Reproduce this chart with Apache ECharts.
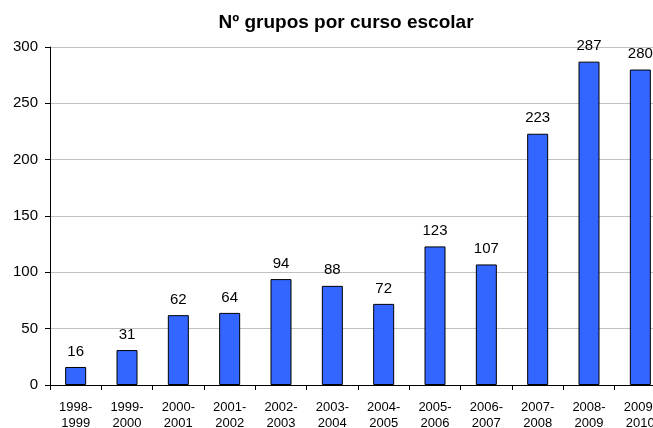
<!DOCTYPE html>
<html>
<head>
<meta charset="utf-8">
<style>
  html, body { margin: 0; padding: 0; background: #fff; }
  #main { width: 653px; height: 428px; }
</style>
<script src="https://cdn.jsdelivr.net/npm/echarts@6/dist/echarts.min.js"></script>
</head>
<body>
<div id="main"></div>
<script>
// cursos escolares
var categories = ['1998-\n1999', '1999-\n2000', '2000-\n2001', '2001-\n2002', '2002-\n2003', '2003-\n2004',
  '2004-\n2005', '2005-\n2006', '2006-\n2007', '2007-\n2008', '2008-\n2009', '2009-\n2010'];
var grupos = [16, 31, 62, 64, 94, 88, 72, 123, 107, 223, 287, 280];
var yTicks = [0, 50, 100, 150, 200, 250, 300];

var font = 'Liberation Sans, Arial, sans-serif';
var myChart = echarts.init(document.getElementById('main'));
myChart.setOption({
  animation: false,
  title: {
    text: 'Nº grupos por curso escolar',
    left: 341,
    textAlign: 'center',
    top: 8,
    textStyle: { fontFamily: font, fontSize: 19, fontWeight: 'bold', color: '#000' }
  },
  grid: { left: 50, top: 47, width: 616, height: 338, outerBoundsMode: 'none', containLabel: false },
  xAxis: {
    type: 'category',
    data: categories,
    axisLine: { lineStyle: { color: '#000', width: 1 } },
    axisTick: { show: true, alignWithLabel: false, length: 5, lineStyle: { color: '#000' } },
    axisLabel: { color: '#000', fontFamily: font, fontSize: 13, lineHeight: 16, margin: 14, interval: 0 }
  },
  yAxis: {
    type: 'value',
    min: yTicks[0],
    max: yTicks[yTicks.length - 1],
    interval: 50,
    axisLine: { show: true, lineStyle: { color: '#000', width: 1 } },
    axisTick: { show: true, length: 5, lineStyle: { color: '#000' } },
    splitLine: { lineStyle: { color: '#c0c0c0', width: 1 } },
    axisLabel: { color: '#000', fontFamily: font, fontSize: 15, margin: 12 }
  },
  series: [{
    type: 'bar',
    data: grupos,
    barWidth: 21,
    itemStyle: { color: '#3366ff', borderColor: '#000', borderWidth: 1 },
    label: {
      show: true,
      position: 'top',
      distance: 8,
      color: '#000',
      fontFamily: font,
      fontSize: 15
    }
  }]
});
</script>
</body>
</html>
